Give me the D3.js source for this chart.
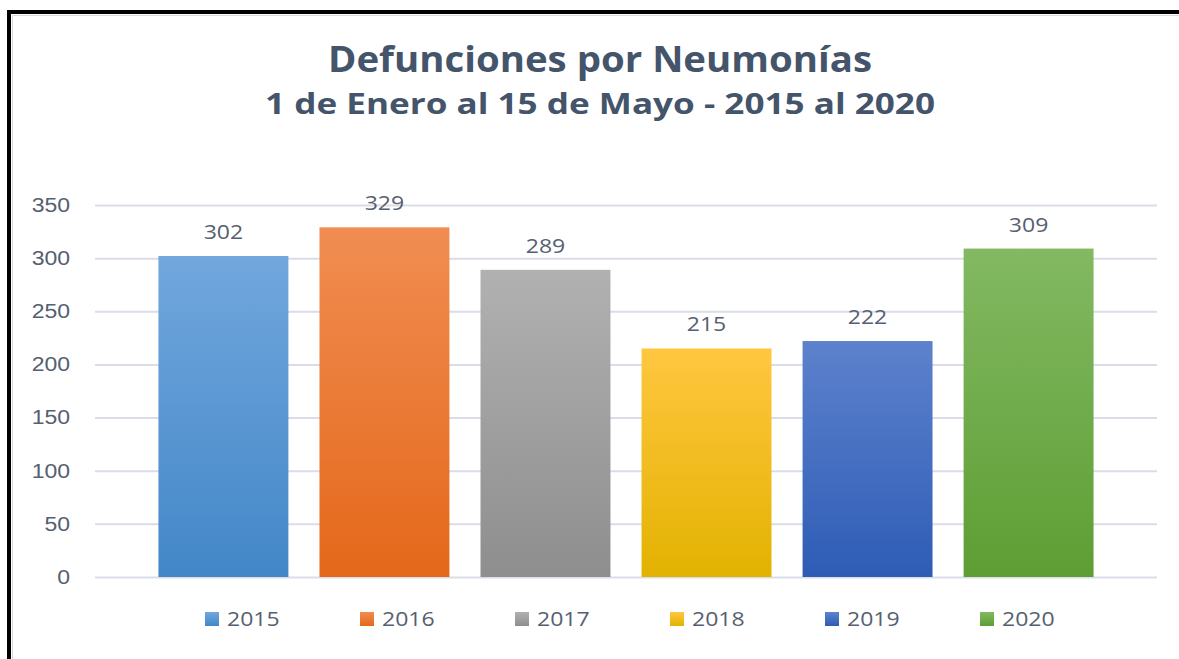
<!DOCTYPE html>
<html>
    <head>
        <meta charset="UTF-8">
        <title>Defunciones por Neumonías</title>
        <script src="https://cdn.jsdelivr.net/npm/d3@7"></script>
        <style>
            body { margin: 0; background: #fff; }
            svg { display: block; font-family: "Open Sans", sans-serif; }
        </style>
    </head>
    <body>
        <div id="chart"></div>

        <script>
            // datos
            var years = ["2015", "2016", "2017", "2018", "2019", "2020"];
            var deaths = [302, 329, 289, 215, 222, 309];
            var yTicks = [0, 50, 100, 150, 200, 250, 300, 350];
            var topColors = ["#71a7dd", "#f18d52", "#b1b1b1", "#ffc740", "#5d82cd", "#82b962"];
            var bottomColors = ["#4387c8", "#e4681a", "#8e8e8e", "#e2b200", "#2e5cb5", "#5e9e34"];

            var W = 1179, H = 659;
            var svg = d3.select("#chart").append("svg")
                    .attr("width", W)
                    .attr("height", H);

            // el original esta estirado a lo ancho
            function stretch(sel, k) {
                sel.each(function () {
                    var w = this.getComputedTextLength();
                    d3.select(this)
                            .attr("textLength", w * k)
                            .attr("lengthAdjust", "spacingAndGlyphs");
                });
            }

            // marco
            svg.append("path")
                    .attr("d", "M9,659 V12 H1179")
                    .attr("fill", "none")
                    .attr("stroke", "#000")
                    .attr("stroke-width", 4);
            svg.append("path")
                    .attr("d", "M12.5,659 V15.5 H1179")
                    .attr("fill", "none")
                    .attr("stroke", "#d6dbe3")
                    .attr("stroke-width", 1);

            var x = d3.scaleBand()
                    .domain(years)
                    .range([95, 1157])
                    .paddingInner(0.193)
                    .paddingOuter(0.394);

            var y = d3.scaleLinear()
                    .domain([0, 350])
                    .range([577, 205]);

            // degradados
            var defs = svg.append("defs");
            years.forEach(function (d, i) {
                var g = defs.append("linearGradient")
                        .attr("id", "grad-" + d)
                        .attr("x1", 0).attr("y1", 0)
                        .attr("x2", 0).attr("y2", 1);
                g.append("stop").attr("offset", "0%").attr("stop-color", topColors[i]);
                g.append("stop").attr("offset", "100%").attr("stop-color", bottomColors[i]);
            });

            // lineas de cuadricula y eje
            var axis = d3.axisLeft(y)
                    .tickValues(yTicks)
                    .tickSize(-(1157 - 95))
                    .tickPadding(25);
            var gAxis = svg.append("g")
                    .attr("transform", "translate(95,0)")
                    .call(axis);
            gAxis.select(".domain").remove();
            gAxis.selectAll(".tick line")
                    .attr("stroke", "#d9dde8")
                    .attr("stroke-width", 2);
            gAxis.selectAll(".tick text")
                    .attr("fill", "#556070")
                    .attr("font-size", "20px")
                    .call(stretch, 1.15);

            // barras
            svg.append("g").selectAll("rect")
                    .data(deaths)
                    .enter()
                    .append("rect")
                    .attr("x", function (d, i) { return x(years[i]); })
                    .attr("y", function (d) { return y(d); })
                    .attr("width", x.bandwidth())
                    .attr("height", function (d) { return y(0) - y(d); })
                    .attr("fill", function (d, i) { return "url(#grad-" + years[i] + ")"; });

            // etiquetas de datos
            svg.append("g").selectAll("text")
                    .data(deaths)
                    .enter()
                    .append("text")
                    .attr("x", function (d, i) { return x(years[i]) + x.bandwidth() / 2; })
                    .attr("y", function (d) { return y(d) - 17; })
                    .attr("text-anchor", "middle")
                    .attr("fill", "#556070")
                    .attr("font-size", "20px")
                    .text(function (d) { return d; })
                    .call(stretch, 1.15);

            // titulo
            svg.append("text")
                    .attr("x", 600)
                    .attr("y", 72)
                    .attr("text-anchor", "middle")
                    .attr("fill", "#44546a")
                    .attr("font-weight", "bold")
                    .attr("font-size", "35px")
                    .attr("textLength", 544)
                    .attr("lengthAdjust", "spacingAndGlyphs")
                    .text("Defunciones por Neumonías");
            svg.append("text")
                    .attr("x", 600)
                    .attr("y", 114)
                    .attr("text-anchor", "middle")
                    .attr("fill", "#44546a")
                    .attr("font-weight", "bold")
                    .attr("font-size", "28px")
                    .attr("textLength", 670)
                    .attr("lengthAdjust", "spacingAndGlyphs")
                    .text("1 de Enero al 15 de Mayo - 2015 al 2020");

            // leyenda
            var legend = svg.append("g").selectAll("g")
                    .data(years)
                    .enter()
                    .append("g")
                    .attr("transform", function (d, i) {
                        return "translate(" + (205 + i * 155) + ",612)";
                    });
            legend.append("rect")
                    .attr("width", 14)
                    .attr("height", 14)
                    .attr("fill", function (d) { return "url(#grad-" + d + ")"; });
            legend.append("text")
                    .attr("x", 22)
                    .attr("y", 14)
                    .attr("fill", "#556070")
                    .attr("font-size", "20px")
                    .text(function (d) { return d; })
                    .call(stretch, 1.15);
        </script>
    </body>
</html>
